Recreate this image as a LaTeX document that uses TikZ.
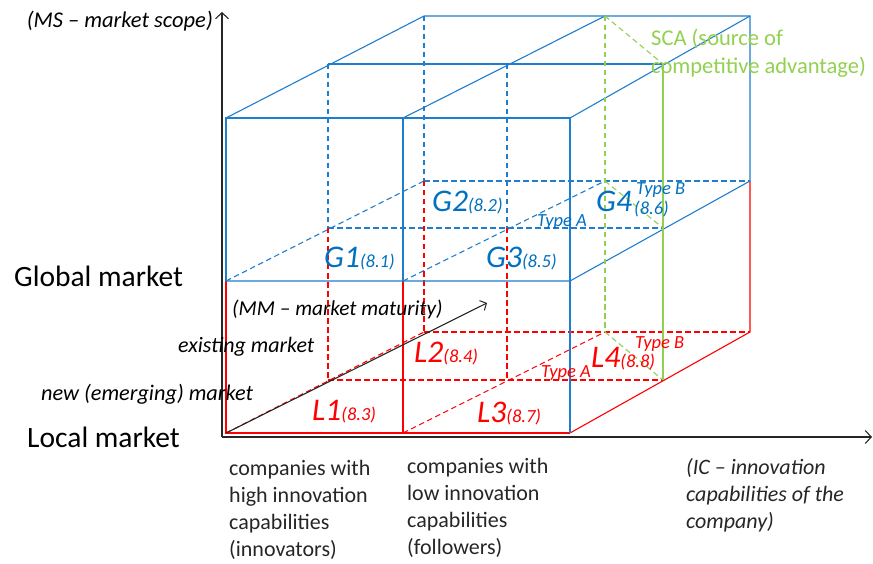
\documentclass[tikz,border=0pt]{standalone}
\usepackage{fontspec}
\setmainfont{Carlito}
\usetikzlibrary{arrows.meta}
\definecolor{lblue}{RGB}{30,125,205}
\definecolor{tblue}{RGB}{0,112,192}
\definecolor{sgreen}{RGB}{146,208,80}
\definecolor{lred}{RGB}{255,0,0}
\newcommand\fxBig{\fontsize{29.5}{35}\selectfont}
\newcommand\fxMid{\fontsize{22.5}{28}\selectfont}
\newcommand\fxCol{\fontsize{22}{27}\selectfont}
\newcommand\fxG{\fontsize{31.5}{34}\selectfont\itshape}
\newcommand\fxS{\fontsize{18.5}{20}\selectfont\itshape}
\begin{document}
\begin{tikzpicture}[x=1pt,y=-1pt,
  bl/.style={draw=lblue,line width=1.1pt},
  bld/.style={bl,dash pattern=on 5.5pt off 3.5pt},
  rd/.style={draw=lred,line width=1.1pt},
  rdd/.style={rd,dash pattern=on 5.5pt off 3.5pt},
  gr/.style={draw=sgreen,line width=1.1pt},
  grd/.style={gr,dash pattern=on 5.5pt off 3.5pt},
  axisline/.style={draw=black!85,line width=1.2pt,-{Straight Barb[length=6pt,width=13pt,line width=1.1pt]}},
  txt/.style={inner sep=0pt,anchor=base west},
  coltxt/.style={inner sep=0pt,anchor=north west,align=left,font=\fxCol,text=black!85}]
\useasboundingbox (0,0) rectangle (873,564);
% front
\coordinate (FT0) at (226,118); \coordinate (FT1) at (403,118); \coordinate (FT2) at (570,118);
\coordinate (FM0) at (226,281); \coordinate (FM1) at (403,281); \coordinate (FM2) at (570,281);
\coordinate (FB0) at (226,433); \coordinate (FB1) at (403,433); \coordinate (FB2) at (570,433);
% mid depth
\coordinate (MT0) at (328,64); \coordinate (MT1) at (507,64); \coordinate (MT2) at (663,64);
\coordinate (MM0) at (328,228); \coordinate (MM1) at (507,228); \coordinate (MM2) at (663,228);
\coordinate (MB0) at (328,380); \coordinate (MB1) at (507,380); \coordinate (MB2) at (663,380);
% back
\coordinate (BT0) at (424,16); \coordinate (BT1) at (605,16); \coordinate (BT2) at (750,16);
\coordinate (BM0) at (424,181); \coordinate (BM1) at (605,181); \coordinate (BM2) at (750,181);
\coordinate (BB0) at (424,332); \coordinate (BB1) at (605,332); \coordinate (BB2) at (750,332);
% axes
\coordinate (O) at (222,437); \coordinate (Ytop) at (222,12); \coordinate (Xend) at (872,437);
\coordinate (MMtip) at (487,303);

% blue dashed hidden lines
\draw[bld] (MT0) -- (MM0); \draw[bld] (BT0) -- (BM0); \draw[bld] (MT1) -- (MM1);
\draw[bld] (BM0) -- (BM2); \draw[bld] (MM0) -- (MM2);
\draw[bld] (FM0) -- (BM0); \draw[bld] (FM1) -- (BM1);
% red dashed hidden lines
\draw[rdd] (MM0) -- (MB0); \draw[rdd] (BM0) -- (BB0); \draw[rdd] (MM1) -- (MB1);
\draw[rdd] (BB0) -- (BB2); \draw[rdd] (MB0) -- (MB2);
\draw[rdd] (FB0) -- (BB0); \draw[rdd] (FB1) -- (BB1);
% red solid
\draw[rd] (FM0) -- (FB0) -- (FB2);
\draw[rd] (FM1) -- (FB1);
\draw[rd] (BM2) -- (BB2) -- (FB2);
% blue solid
\draw[bl] (FM0) -- (FT0) -- (FT2) -- (FB2);
\draw[bl] (FT1) -- (FM1);
\draw[bl] (FM0) -- (FM2) -- (BM2) -- (BT2) -- (BT0) -- (FT0);
\draw[bl] (MT0) -- (MT2);
\draw[bl] (FT1) -- (BT1);
\draw[bl] (FT2) -- (BT2);
% green SCA plane
\draw[grd] (BT1) -- (BB1);
\draw[gr] (MT2) -- (MB2);
\draw[grd] (BT1) -- (MT2); \draw[grd] (BM1) -- (MM2); \draw[grd] (BB1) -- (MB2);
% axes
\draw[axisline] (O) -- (Ytop);
\draw[axisline] (O) -- (Xend);
\draw[draw=black!85,line width=1.1pt,-{Straight Barb[length=5pt,width=11pt,line width=1pt]}] (FB0) -- (MMtip);

% texts
\node[txt,anchor=base east] (ms) at (213,28) {\fontsize{22.5}{28}\selectfont\itshape (MS – market scope)};
\node[txt] (glob) at (14,287) {\fxBig Global market};
\node[txt] (loc) at (27,447) {\fxBig Local market};
\node[txt] (mm) at (232,315) {\fontsize{21.3}{28}\selectfont\itshape (MM – market maturity)};
\node[txt] (ex) at (178,352) {\fontsize{22}{28}\selectfont\itshape existing market};
\node[txt] (nw) at (41,400) {\fontsize{22.3}{28}\selectfont\itshape new (emerging) market};
\node[coltxt] (c1) at (229,460) {companies with\\high innovation\\capabilities\\(innovators)};
\node[coltxt] (c2) at (407,458) {companies with\\low innovation\\capabilities\\(followers)};
\node[coltxt,font=\fxCol\itshape] (c3) at (686,458) {(IC – innovation\\capabilities of the\\company)};
\node[inner sep=0pt,anchor=north west,align=left,text=sgreen,font=\fxMid] (sca) at (651,29) {SCA (source of\\competitive advantage)};
% G labels
\node[txt,text=tblue] (g1) at (324,268) {\fxG G1\fxS(8.1)};
\node[txt,text=tblue] (g2) at (432,212) {\fxG G2\fxS(8.2)};
\node[txt,text=tblue] (g3) at (486,268) {\fxG G3\fxS(8.5)};
\node[txt,text=tblue] (g4) at (596,212) {\fxG G4};
\node[txt,text=tblue] (g4n) at (634,215) {\fxS(8.6)};
\node[txt,text=tblue] (g4b) at (636,195) {\fxS Type B};
\node[txt,text=tblue] (g4a) at (537,227) {\fxS Type A};
% L labels
\node[txt,text=lred] (l1) at (312,420) {\fxG L1\fxS(8.3)};
\node[txt,text=lred] (l2) at (414,362) {\fxG L2\fxS(8.4)};
\node[txt,text=lred] (l3) at (477,422) {\fxG L3\fxS(8.7)};
\node[txt,text=lred] (l4) at (591,367) {\fxG L4\fxS(8.8)};
\node[txt,text=lred] (l4b) at (635,348) {\fxS Type B};
\node[txt,text=lred] (l4a) at (541,377) {\fxS Type A};
\end{tikzpicture}
\end{document}
